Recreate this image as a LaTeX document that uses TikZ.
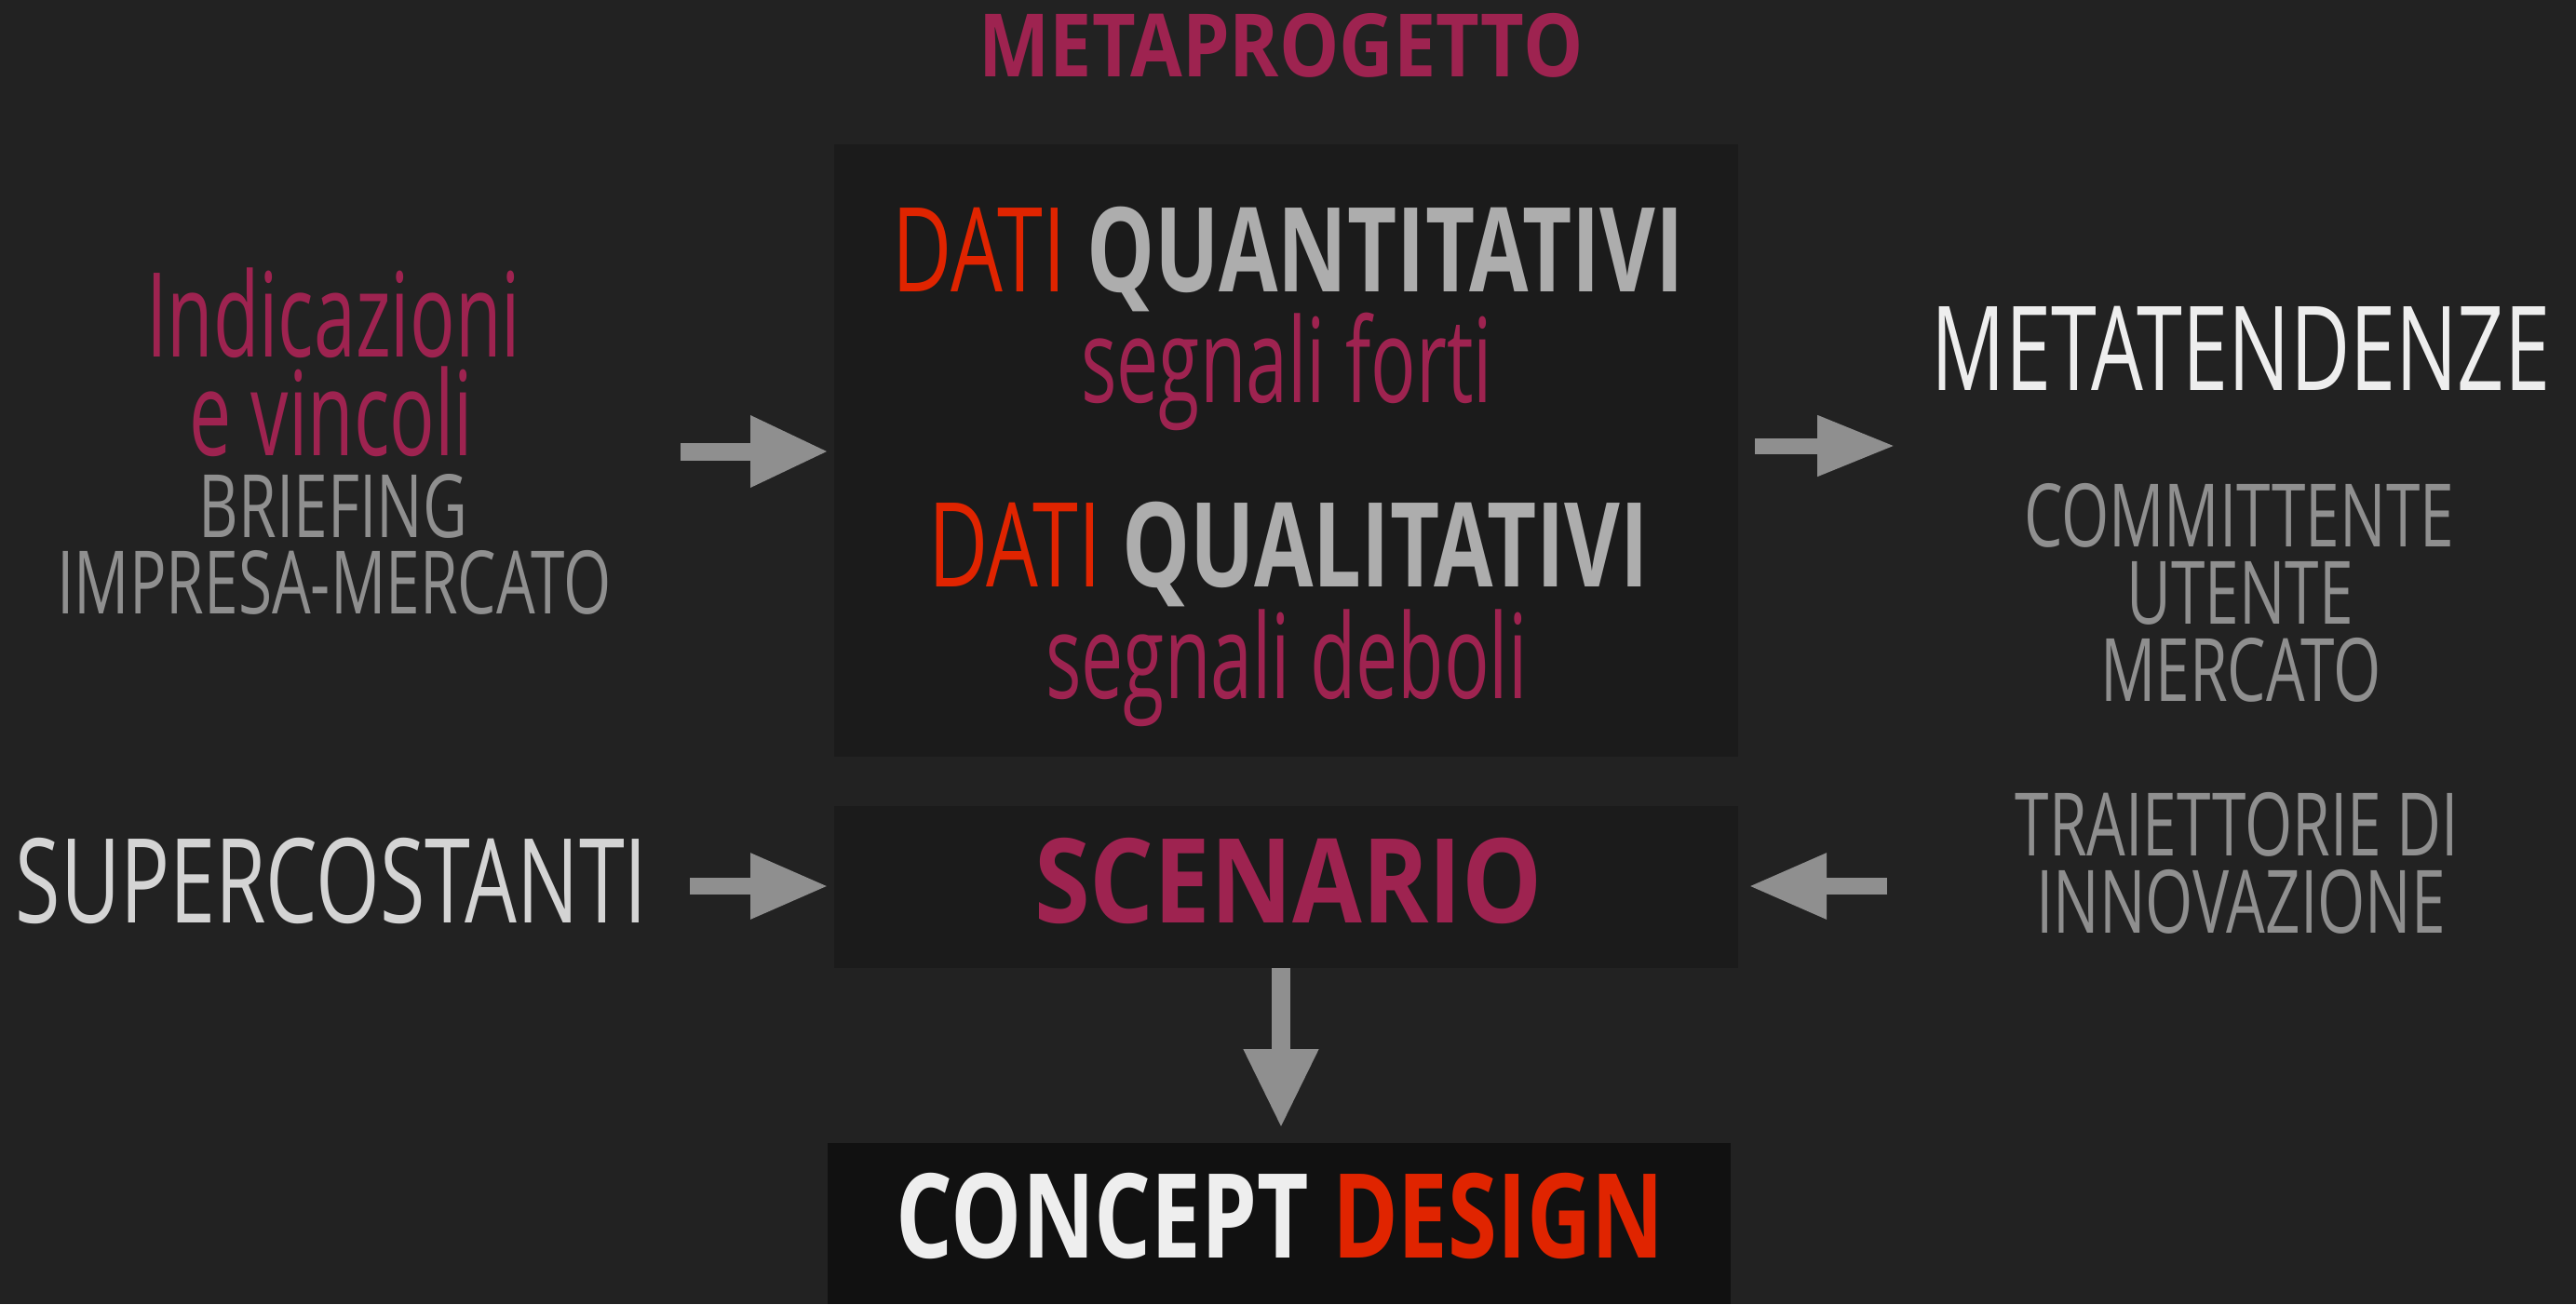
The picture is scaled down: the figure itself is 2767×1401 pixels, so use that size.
\documentclass[tikz,border=0pt]{standalone}
\usepackage{fontspec}
\usetikzlibrary{arrows.meta}
\newfontfamily\thinf{Open Sans}[FakeStretch=0.70]
\newfontfamily\lowf{Open Sans}[FakeStretch=0.64]
\newfontfamily\quanf{Open Sans}[FakeStretch=0.73]
\newfontfamily\boldf{Open Sans}[FakeStretch=0.76]
\newfontfamily\scenf{Open Sans}[FakeStretch=0.86]
\definecolor{bg}{HTML}{222222}
\definecolor{boxc}{HTML}{1B1B1B}
\definecolor{concc}{HTML}{111111}
\definecolor{crim}{HTML}{9E2350}
\definecolor{redc}{HTML}{E02400}
\definecolor{arrg}{HTML}{8F8F8F}
\definecolor{lgray}{HTML}{ADADAD}
\definecolor{wht}{HTML}{EEEEEE}
\definecolor{supc}{HTML}{D4D4D4}
\tikzset{
  txt/.style={anchor=base, inner sep=0pt, outer sep=0pt},
  bigthin/.style={txt, font=\thinf\fontsize{126}{130}\selectfont},
  biglow/.style={txt, font=\lowf\fontsize{126}{130}\selectfont},
  smallthin/.style={txt, font=\thinf\fontsize{94}{98}\selectfont},
  bigbold/.style={txt, font=\boldf\bfseries\fontsize{126}{130}\selectfont},
  panel/.style={fill=#1, draw=none, inner sep=0pt, outer sep=0pt},
  barrow/.style={draw=arrg, line width=#1},
}
\begin{document}
\begin{tikzpicture}[x=1pt,y=-1pt]
\fill[bg] (0,0) rectangle (2767,1401);
\useasboundingbox (0,0) rectangle (2767,1401);
% panels
\node[panel=boxc, minimum width=971pt, minimum height=658pt] (main) at (1381.5,484) {};
\node[panel=boxc, minimum width=971pt, minimum height=174pt] (scen) at (1381.5,953) {};
\node[panel=concc, minimum width=970pt, minimum height=173pt] (conc) at (1374,1314.5) {};
% title
\node[txt, font=\scenf\bfseries\fontsize{94}{98}\selectfont, text=crim] (title) at (1376,82) {METAPROGETTO};
% main box texts
\node[bigthin] (dq1) at (1384,313) {\textcolor{redc}{DATI} \textcolor{lgray}{\quanf\bfseries QUANTITATIVI}};
\node[biglow, text=crim] (sf) at (1382,432) {segnali forti};
\node[bigthin] (dq2) at (1384,630) {\textcolor{redc}{DATI} \textcolor{lgray}{\quanf\bfseries QUALITATIVI}};
\node[biglow, text=crim] (sd) at (1382,750) {segnali deboli};
\node[txt, font=\scenf\bfseries\fontsize{126}{130}\selectfont, text=crim] (scentxt) at (1384,991) {SCENARIO};
\node[bigbold] (cd) at (1375,1351) {\textcolor{wht}{CONCEPT} \textcolor{redc}{DESIGN}};
% left texts
\node[biglow, text=crim] (ind1) at (358,383) {Indicazioni};
\node[biglow, text=crim] (ind2) at (356,489) {e vincoli};
\node[smallthin, text=arrg] (brief) at (358,577) {BRIEFING};
\node[smallthin, text=arrg] (impr) at (359,659) {IMPRESA-MERCATO};
\node[bigthin, text=supc] (sup) at (356,991) {SUPERCOSTANTI};
% right texts
\node[bigthin, text=wht] (meta) at (2407,419) {METATENDENZE};
\node[smallthin, text=arrg] (comm) at (2405,587) {COMMITTENTE};
\node[smallthin, text=arrg] (uten) at (2406,670) {UTENTE};
\node[smallthin, text=arrg] (merc) at (2407,753) {MERCATO};
\node[smallthin, text=arrg] (traj) at (2403,919) {TRAIETTORIE DI};
\node[smallthin, text=arrg] (innov) at (2407,1002) {INNOVAZIONE};
% arrow endpoints
\coordinate (a1s) at (731,485);   \coordinate (a1e) at (890,485);
\coordinate (a2s) at (1885,479);  \coordinate (a2e) at (2036,479);
\coordinate (a3s) at (741,952);   \coordinate (a3e) at (890,952);
\coordinate (a4s) at (2027,952);  \coordinate (a4e) at (1878,952);
\coordinate (a5e) at (1376,1212);
\draw[barrow=19pt, -{Triangle[width=72pt,length=84pt]}] (a1s) -- (a1e);
\draw[barrow=17pt, -{Triangle[width=61pt,length=84pt]}] (a2s) -- (a2e);
\draw[barrow=18pt, -{Triangle[width=66pt,length=84pt]}] (a3s) -- (a3e);
\draw[barrow=18pt, -{Triangle[width=66pt,length=84pt]}] (a4s) -- (a4e);
\draw[barrow=20pt, -{Triangle[width=75pt,length=85pt]}] (scen.south -| a5e) -- (a5e);
\end{tikzpicture}
\end{document}
